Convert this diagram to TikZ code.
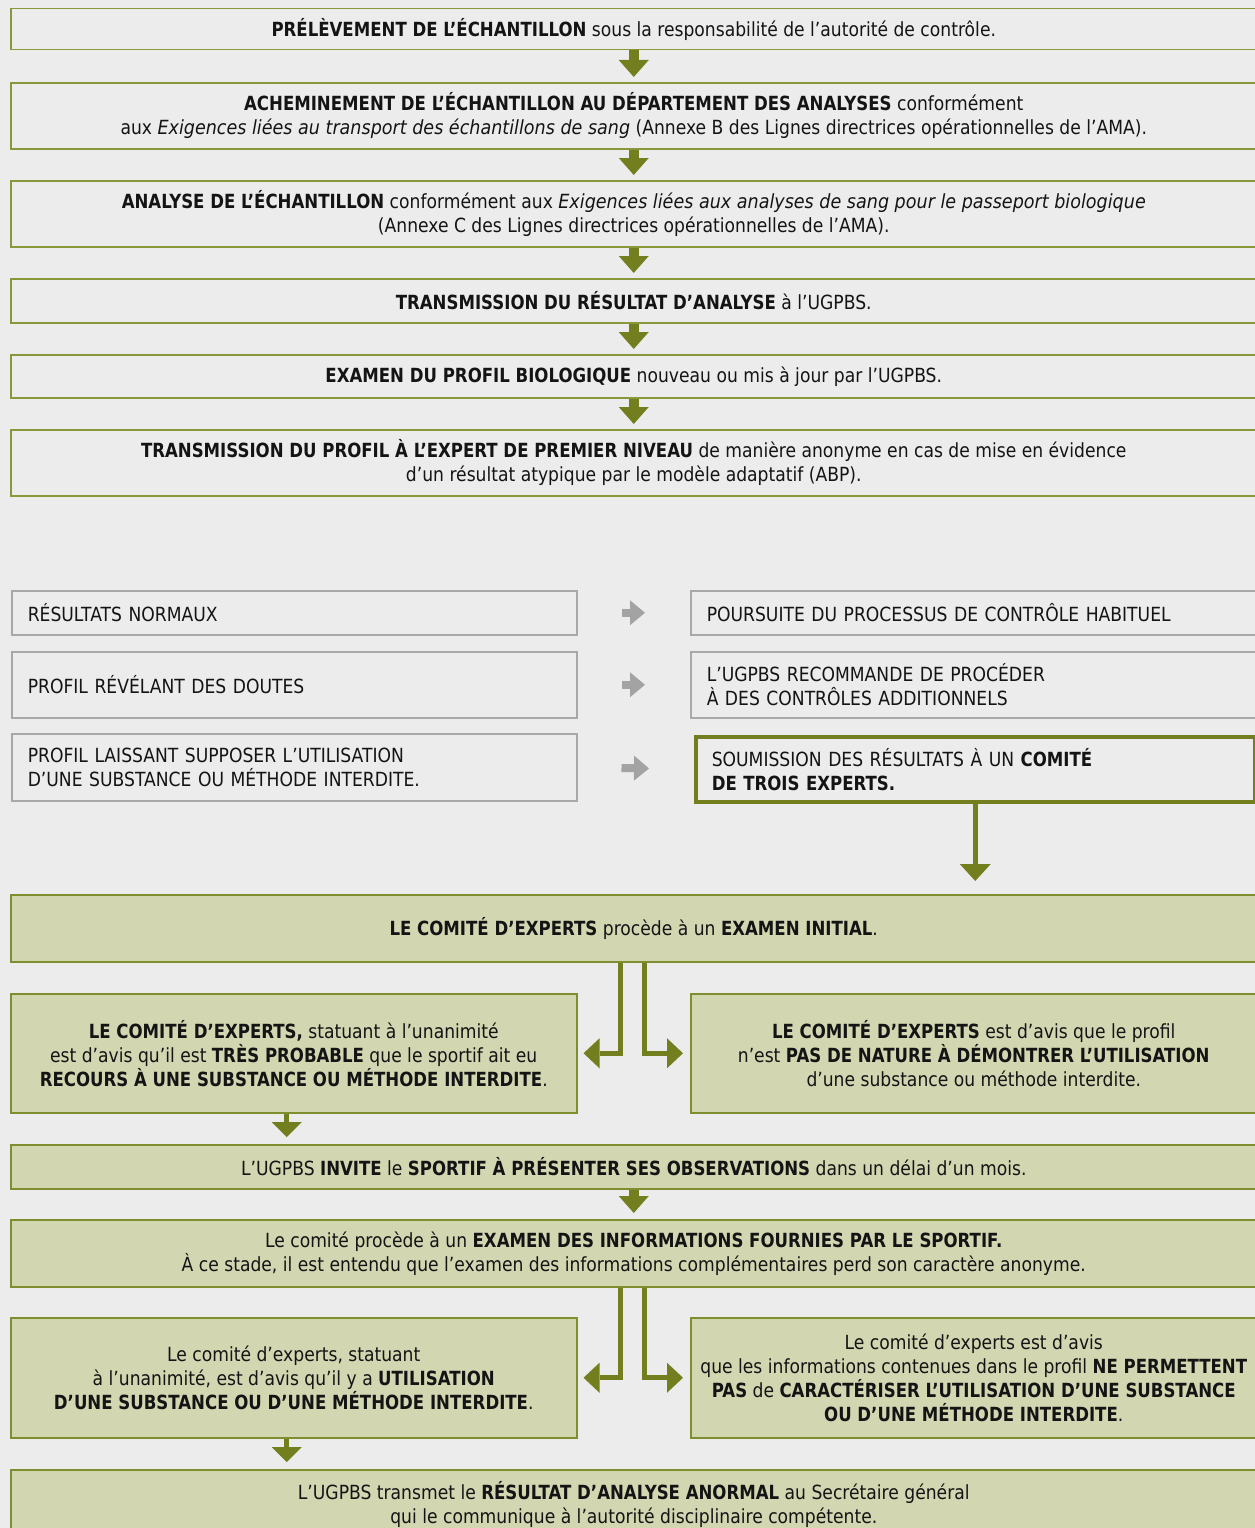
\documentclass[tikz,border=0pt]{standalone}
\usepackage{fontspec}
\setmainfont[FakeStretch=0.88,BoldFeatures={FakeStretch=0.85},ItalicFeatures={FakeStretch=0.90}]{DejaVu Sans}
\usetikzlibrary{arrows.meta}
\definecolor{bgc}{HTML}{ECECEC}
\definecolor{olivebd}{HTML}{8A973A}
\definecolor{graybd}{HTML}{A8A8A8}
\definecolor{greenfill}{HTML}{D2D6B1}
\definecolor{greenbd}{HTML}{7F8E2E}
\definecolor{arrowc}{HTML}{737F1E}
\definecolor{grayarr}{HTML}{A3A3A3}
\definecolor{txt}{HTML}{141414}
\begin{document}
\begin{tikzpicture}[x=1pt,y=-1pt,
  every node/.style={text=txt,font=\fontsize{19.5}{24}\selectfont},
  base/.style={anchor=north west,inner ysep=0pt,inner xsep=2pt,align=center},
  topbox/.style={base,draw=olivebd,line width=1.5pt},
  graybox/.style={base,draw=graybd,line width=1.5pt,align=left,inner xsep=16pt},
  thickbox/.style={base,draw=arrowc,line width=3.5pt,align=left,inner xsep=16pt},
  greenbox/.style={base,draw=greenbd,fill=greenfill,line width=1.5pt},
  mainarrow/.style={draw=arrowc,line width=10pt,-{Triangle[width=30pt,length=17pt,line width=0pt]},shorten >=5pt},
  thinarrow/.style={draw=arrowc,line width=5pt,-{Triangle[width=30pt,length=16pt,line width=0pt]}},
  grayarrow/.style={draw=grayarr,line width=8pt,-{Triangle[width=25pt,length=15pt,line width=0pt]},shorten <=44pt,shorten >=45pt}]
\fill[bgc] (0,0) rectangle (1255,1528);
\clip (0,0) rectangle (1255,1528);

% top sequence
\node[topbox,minimum width=1246pt,minimum height=41pt] (b1) at (10,8)
  {\textbf{PRÉLÈVEMENT DE L’ÉCHANTILLON} sous la responsabilité de l’autorité de contrôle.};
\node[topbox,minimum width=1246pt,minimum height=66pt] (b2) at (10,82)
  {\textbf{ACHEMINEMENT DE L’ÉCHANTILLON AU DÉPARTEMENT DES ANALYSES} conformément\\
   aux \textit{Exigences liées au transport des échantillons de sang} (Annexe B des Lignes directrices opérationnelles de l’AMA).};
\node[topbox,minimum width=1246pt,minimum height=66pt] (b3) at (10,180)
  {\textbf{ANALYSE DE L’ÉCHANTILLON} conformément aux \textit{Exigences liées aux analyses de sang pour le passeport biologique}\\
   (Annexe C des Lignes directrices opérationnelles de l’AMA).};
\node[topbox,minimum width=1246pt,minimum height=44pt] (b4) at (10,278)
  {\textbf{TRANSMISSION DU RÉSULTAT D’ANALYSE} à l’UGPBS.};
\node[topbox,minimum width=1246pt,minimum height=43pt] (b5) at (10,354)
  {\textbf{EXAMEN DU PROFIL BIOLOGIQUE} nouveau ou mis à jour par l’UGPBS.};
\node[topbox,minimum width=1246pt,minimum height=66pt] (b6) at (10,429)
  {\textbf{TRANSMISSION DU PROFIL À L’EXPERT DE PREMIER NIVEAU} de manière anonyme en cas de mise en évidence\\
   d’un résultat atypique par le modèle adaptatif (ABP).};
\draw[mainarrow] (b1.south) -- (b2.north);
\draw[mainarrow] (b2.south) -- (b3.north);
\draw[mainarrow] (b3.south) -- (b4.north);
\draw[mainarrow] (b4.south) -- (b5.north);
\draw[mainarrow] (b5.south) -- (b6.north);

% decision rows
\node[graybox,text width=533pt,minimum height=44pt] (L1) at (11,590) {RÉSULTATS NORMAUX};
\node[graybox,text width=534pt,minimum height=44pt] (R1) at (690,590) {POURSUITE DU PROCESSUS DE CONTRÔLE HABITUEL};
\node[graybox,text width=533pt,minimum height=66pt] (L2) at (11,651) {PROFIL RÉVÉLANT DES DOUTES};
\node[graybox,text width=534pt,minimum height=66pt] (R2) at (690,651) {L’UGPBS RECOMMANDE DE PROCÉDER\\À DES CONTRÔLES ADDITIONNELS};
\node[graybox,text width=533pt,minimum height=67pt] (L3) at (11,733) {PROFIL LAISSANT SUPPOSER L’UTILISATION\\D’UNE SUBSTANCE OU MÉTHODE INTERDITE.};
\node[thickbox,text width=527pt,minimum height=65pt] (R3) at (694,735) {SOUMISSION DES RÉSULTATS À UN \textbf{COMITÉ}\\\textbf{DE TROIS EXPERTS.}};
\draw[grayarrow] (L1.east) -- (R1.west);
\draw[grayarrow] (L2.east) -- (R2.west);
\draw[grayarrow] (L3.east) -- (R3.west);

% committee
\node[greenbox,minimum width=1246pt,minimum height=67pt] (G1) at (10,894)
  {\textbf{LE COMITÉ D’EXPERTS} procède à un \textbf{EXAMEN INITIAL}.};
\draw[draw=arrowc,line width=5pt,-{Triangle[width=31pt,length=17pt,line width=0pt]},shorten >=13pt] (R3.south) -- (R3.south |- G1.north);

\node[greenbox,minimum width=566pt,minimum height=119pt] (L4) at (10,993)
  {\textbf{LE COMITÉ D’EXPERTS,} statuant à l’unanimité\\
   est d’avis qu’il est \textbf{TRÈS PROBABLE} que le sportif ait eu\\
   \textbf{RECOURS À UNE SUBSTANCE OU MÉTHODE INTERDITE}.};
\node[greenbox,minimum width=566pt,minimum height=119pt] (R4) at (690,993)
  {\textbf{LE COMITÉ D’EXPERTS} est d’avis que le profil\\
   n’est \textbf{PAS DE NATURE À DÉMONTRER L’UTILISATION}\\
   d’une substance ou méthode interdite.};
\draw[thinarrow,shorten >=6pt] ([xshift=-13pt]G1.south) |- (L4.east);
\draw[thinarrow,shorten >=7pt] ([xshift=11pt]G1.south) |- (R4.west);

\node[greenbox,minimum width=1246pt,minimum height=44pt] (G2) at (10,1144)
  {L’UGPBS \textbf{INVITE} le \textbf{SPORTIF À PRÉSENTER SES OBSERVATIONS} dans un délai d’un mois.};
\draw[draw=arrowc,line width=5pt,-{Triangle[width=30pt,length=15pt,line width=0pt]},shorten >=7pt] ([xshift=-7pt]L4.south) -- ([xshift=-7pt]L4.south |- G2.north);

\node[greenbox,minimum width=1246pt,minimum height=67pt] (G3) at (10,1219)
  {Le comité procède à un \textbf{EXAMEN DES INFORMATIONS FOURNIES PAR LE SPORTIF.}\\
   À ce stade, il est entendu que l’examen des informations complémentaires perd son caractère anonyme.};
\draw[mainarrow,shorten >=6pt] (G2.south) -- (G3.north);

\node[greenbox,minimum width=566pt,minimum height=120pt] (L5) at (10,1317)
  {Le comité d’experts, statuant\\
   à l’unanimité, est d’avis qu’il y a \textbf{UTILISATION}\\
   \textbf{D’UNE SUBSTANCE OU D’UNE MÉTHODE INTERDITE}.};
\node[greenbox,minimum width=566pt,minimum height=120pt] (R5) at (690,1317)
  {Le comité d’experts est d’avis\\
   que les informations contenues dans le profil \textbf{NE PERMETTENT}\\
   \textbf{PAS} de \textbf{CARACTÉRISER L’UTILISATION D’UNE SUBSTANCE}\\
   \textbf{OU D’UNE MÉTHODE INTERDITE}.};
\draw[thinarrow,shorten >=6pt] ([xshift=-13pt]G3.south) |- (L5.east);
\draw[thinarrow,shorten >=7pt] ([xshift=11pt]G3.south) |- (R5.west);

\node[greenbox,minimum width=1246pt,minimum height=70pt] (G4) at (10,1469)
  {L’UGPBS transmet le \textbf{RÉSULTAT D’ANALYSE ANORMAL} au Secrétaire général\\
   qui le communique à l’autorité disciplinaire compétente.};
\draw[draw=arrowc,line width=5pt,-{Triangle[width=30pt,length=15pt,line width=0pt]},shorten >=7pt] ([xshift=-7pt]L5.south) -- ([xshift=-7pt]L5.south |- G4.north);
\end{tikzpicture}
\end{document}
